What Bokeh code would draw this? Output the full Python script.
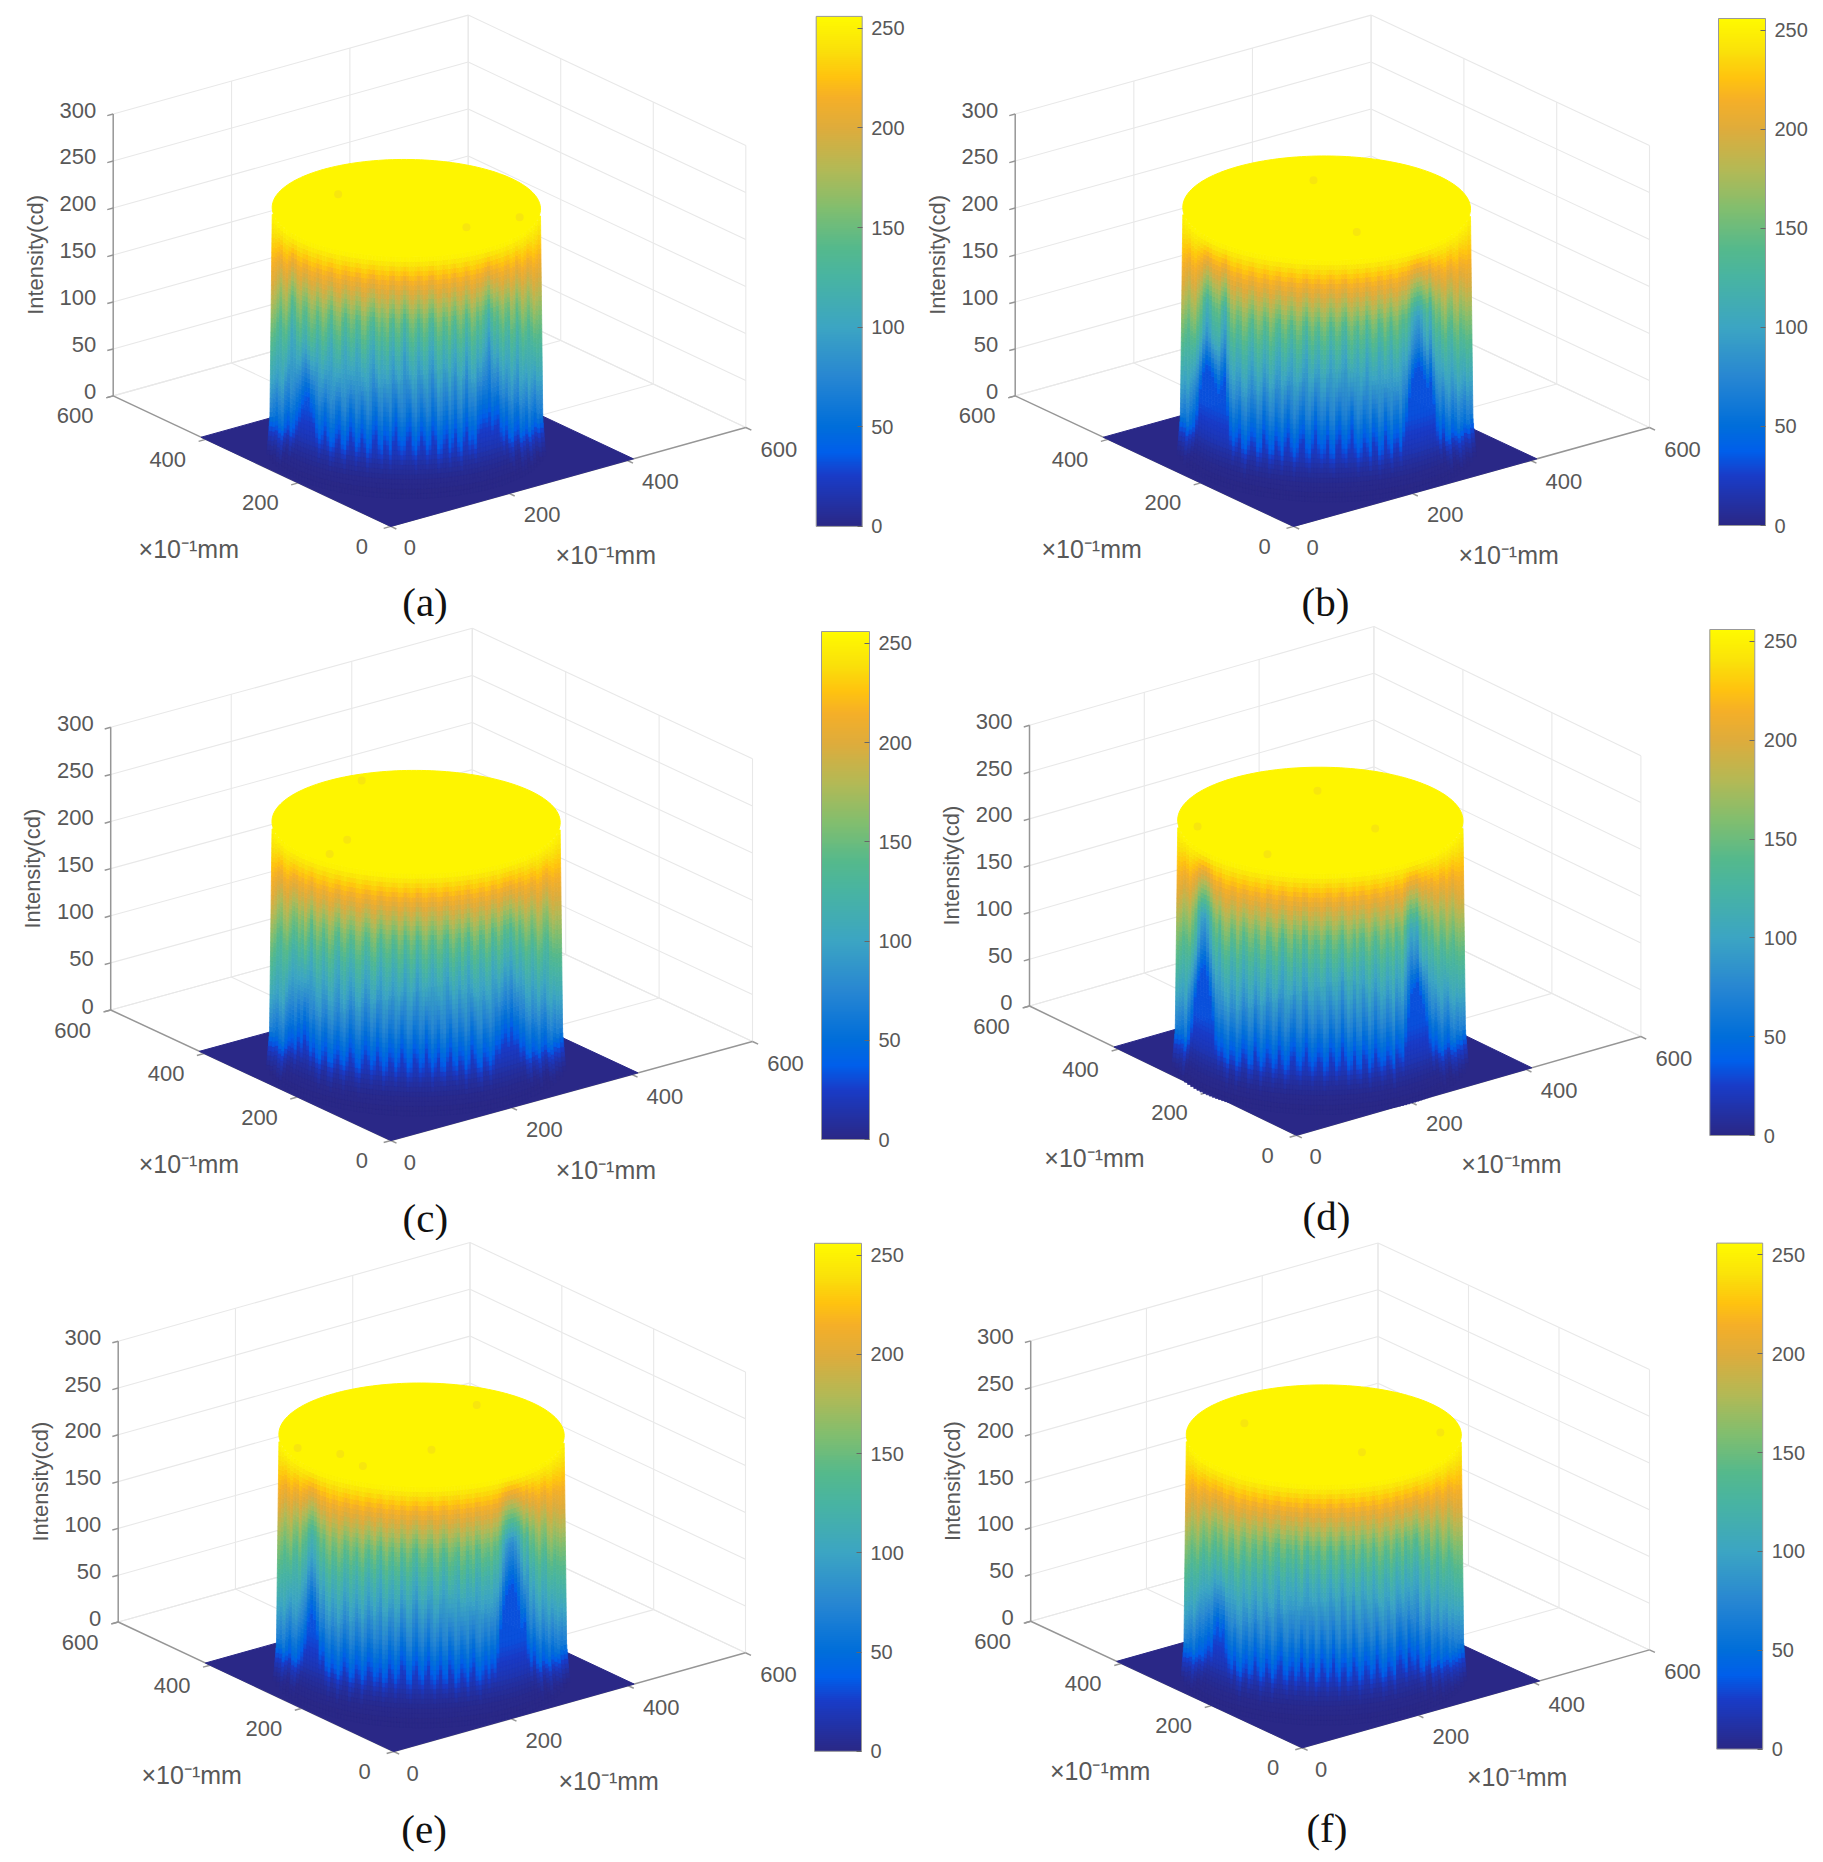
import numpy as np
from bokeh.embed import file_html
from bokeh.resources import INLINE
from bokeh.core.properties import value
from bokeh.layouts import column, row
from bokeh.models import ColorBar, ColumnDataSource, FixedTicker, LinearColorMapper, Range1d
from bokeh.plotting import figure

# ---- data ----
captions = ["(a)", "(b)", "(c)", "(d)", "(e)", "(f)"]
z_ticks = [0, 50, 100, 150, 200, 250, 300]
xy_ticks = [0, 200, 400, 600]
bar_ticks = [0, 50, 100, 150, 200, 250]
z_title = "Intensity(cd)"
xy_title = "×10⁻¹mm"
plateau = 255            # intensity of the flat top
base_extent = 410        # side of the dark square, ×10⁻¹mm

# For each panel: how far (in intensity) the wall colour lags behind its height,
# column by column from the left edge of the cylinder to the right edge.
# "hi" holds for the upper part of the wall, "lo" for the lower part.
hi_a = [22,30,44,60,38,30,52,78,70,44,36,58,64,40,28,34,56,42,22,30,48,62,36,24,20,44,58,40,26,32,54,46,20,18,36,52,60,34,22,40,28,18,46,58,30,24,42,66,48,26,20,34,54,40,22,30,56,62,36,18,26,48,38,20,44,58,32,24,36,64,46,22,30,52,40,56,72,84,66,48,60,42,30,50,58,28,36,62,44,24,34,52,38,22,30,36]
lo_a = [30,38,46,34,28,50,60,44,52,64,72,80,86,88,76,70,50,36,44,58,40,26,30,46,52,28,22,38,56,44,24,32,50,36,18,26,48,54,30,22,42,36,20,44,58,32,24,28,46,52,26,18,34,50,38,22,30,54,44,20,26,40,48,24,36,52,30,22,44,58,34,40,32,56,62,70,66,74,60,68,72,52,44,56,38,30,48,54,28,36,46,26,40,50,32,36]
hi_b = [26,36,48,30,24,44,62,84,96,86,72,66,60,82,92,64,40,30,50,44,22,26,46,58,34,20,30,52,42,18,28,48,56,30,22,40,54,36,18,24,46,60,32,20,38,50,26,18,34,56,42,22,30,52,60,28,20,36,48,24,30,58,40,20,26,54,44,22,38,56,32,26,46,60,52,72,88,98,104,98,84,74,90,64,46,56,36,26,48,54,30,22,44,36,28,32]
lo_b = [34,42,30,46,58,74,98,120,130,134,126,108,96,102,110,76,50,36,44,54,30,22,38,50,44,24,30,56,40,22,26,48,36,20,42,54,32,18,28,46,52,26,20,38,58,34,24,30,48,22,18,44,52,30,26,40,60,34,20,28,46,36,22,50,42,20,28,54,36,24,44,48,30,52,70,94,116,130,136,130,120,104,110,84,58,44,60,38,30,50,42,26,36,46,30,38]
hi_c = [24,34,50,58,36,28,46,64,60,40,52,30,48,70,44,26,36,56,40,20,28,50,60,32,22,38,52,44,20,18,34,54,46,24,16,40,56,36,22,28,50,42,18,26,54,38,20,30,58,44,24,18,36,52,40,22,26,48,56,30,18,34,46,24,40,58,36,20,28,50,44,22,32,60,50,30,44,66,58,72,56,38,60,46,28,36,54,42,22,30,50,56,34,24,30,28]
lo_c = [28,36,44,30,24,46,58,60,50,68,56,72,62,44,52,36,26,44,50,28,22,38,46,30,20,34,52,42,24,18,36,50,40,22,30,48,34,18,26,44,38,20,32,50,36,18,24,46,40,22,28,52,34,18,30,44,24,20,38,50,28,22,42,36,18,30,54,40,24,20,44,38,26,36,54,50,64,72,62,76,64,66,50,54,36,30,46,40,26,44,50,30,24,36,28,30]
hi_d = [28,36,50,44,32,54,72,96,112,116,104,86,64,48,68,40,26,30,52,44,20,34,56,42,24,28,48,36,18,22,50,44,26,18,38,58,40,22,18,46,34,24,54,48,20,28,42,36,18,30,52,44,22,26,40,58,34,18,28,46,24,44,52,30,18,36,54,40,22,30,50,38,26,56,46,32,64,84,96,90,98,76,58,68,46,56,36,28,50,44,24,36,48,30,26,30]
lo_d = [32,40,46,30,58,76,102,124,136,140,128,106,82,58,44,50,36,24,44,40,20,30,50,42,22,26,54,36,18,30,46,38,20,28,50,32,16,24,44,48,26,20,36,52,30,18,28,42,36,16,24,48,40,22,30,54,36,18,26,44,24,20,46,40,18,30,50,34,22,28,44,36,20,50,42,36,62,84,106,120,126,116,98,80,62,46,56,40,28,44,52,30,24,36,28,32]
hi_e = [28,38,52,40,30,54,58,36,60,66,82,90,82,68,48,60,36,24,46,40,20,30,52,44,24,36,48,28,18,40,52,36,22,44,56,30,18,36,46,26,22,50,38,20,30,48,58,32,22,28,44,50,24,18,36,54,44,22,30,40,50,20,26,46,36,24,54,48,30,38,44,32,52,50,70,90,104,112,116,110,100,86,70,80,52,62,42,30,50,56,30,24,40,34,28,32]
lo_e = [34,42,30,46,58,40,36,50,60,74,90,100,94,78,56,62,40,30,46,36,22,34,50,40,20,26,44,36,18,30,46,40,22,28,38,18,24,46,36,20,30,52,44,22,18,40,48,28,20,36,50,26,18,30,44,24,22,48,38,18,26,42,34,20,40,50,28,22,34,44,32,46,40,60,86,110,124,132,130,116,102,86,92,64,48,62,42,30,50,40,26,44,34,28,36,30]
hi_f = [22,30,44,36,24,42,56,46,34,52,62,44,56,36,26,46,50,28,20,40,52,32,24,44,48,26,32,56,42,24,36,50,58,30,28,48,44,32,54,36,22,46,58,40,28,42,52,30,24,44,56,36,26,40,60,44,28,36,50,22,30,54,42,24,34,56,36,20,30,50,44,24,38,56,46,30,60,50,42,62,66,44,30,48,52,26,36,54,40,22,32,48,36,24,28,26]
lo_f = [24,32,40,28,44,54,50,60,68,62,78,86,76,82,62,46,36,48,30,20,38,44,26,32,52,36,20,28,46,36,18,30,44,50,26,20,36,42,22,30,50,34,20,38,44,18,26,48,36,20,32,52,30,18,38,42,20,28,50,36,18,26,44,38,22,30,52,34,20,26,44,36,24,50,58,46,36,62,50,44,58,36,28,46,52,26,34,44,24,36,40,24,32,26,28,24]

# Small dips on the flat top: offset from the disk centre in u and v (×10⁻¹mm)
dips_a = [(100, -117), (-41, 95), (21, -103)]
dips_b = [(49, 91), (-22, -93)]
dips_c = [(36, 163), (-112, 3), (-162, -24)]
dips_d = [(64, 89), (-134, -54), (-148, 85), (42, -69)]
dips_e = [(-133, -42), (-23, -51), (-162, 63), (-130, 11), (127, 42)]
dips_f = [(131, -90), (1, -83), (-59, 100)]

# ---- page geometry (page pixels) ----
ROW1, ROW2, ROW3 = (0, 625), (625, 1240), (1240, 1858)
COL1, COL2 = (0, 915), (915, 1815)
GEOM = [
    dict(L=(112.7, 395.4), top=113.5, F=(390.3, 525.9), R=(745.3, 427.0), disk=(271.7, 540.0, 207.7),
         bar=(815.7, 861.5, 15.8, 525.9), cap=(424.5, 601), fig=COL1 + ROW1, hi=hi_a, lo=lo_a, dips=dips_a),
    dict(L=(1014.7, 395.4), top=113.5, F=(1293.1, 525.9), R=(1649.0, 427.0), disk=(1182.3, 1470.0, 207.6),
         bar=(1718.0, 1765.0, 17.8, 525.0), cap=(1325, 601), fig=COL2 + ROW1, hi=hi_b, lo=lo_b, dips=dips_b),
    dict(L=(110.2, 1009.5), top=726.8, F=(390.4, 1140.0), R=(752.0, 1041.0), disk=(271.5, 559.7, 821.5),
         bar=(821.0, 868.5, 630.7, 1139.0), cap=(424.8, 1217), fig=COL1 + ROW2, hi=hi_c, lo=lo_c, dips=dips_c),
    dict(L=(1029.0, 1005.5), top=724.8, F=(1296.0, 1134.8), R=(1640.4, 1036.0), disk=(1177.2, 1462.5, 820.0),
         bar=(1709.3, 1754.0, 628.7, 1135.0), cap=(1326, 1215), fig=COL2 + ROW2, hi=hi_d, lo=lo_d, dips=dips_d),
    dict(L=(117.7, 1621.5), top=1340.7, F=(393.2, 1751.0), R=(745.0, 1652.3), disk=(278.4, 563.7, 1434.5),
         bar=(814.0, 861.0, 1242.7, 1750.8), cap=(423.6, 1828), fig=COL1 + ROW3, hi=hi_e, lo=lo_e, dips=dips_e),
    dict(L=(1030.2, 1620.8), top=1340.4, F=(1301.7, 1747.3), R=(1649.0, 1649.4), disk=(1185.8, 1460.8, 1434.3),
         bar=(1716.2, 1762.1, 1242.4, 1748.6), cap=(1326.4, 1827), fig=COL2 + ROW3, hi=hi_f, lo=lo_f, dips=dips_f),
]

# ---- colour map as seen in the colour bars ----
anchors = [(0, (42, 40, 135)), (25, (25, 60, 200)), (37, (0, 95, 235)), (50, (0, 110, 218)), (75, (40, 135, 210)),
           (100, (60, 165, 195)), (125, (72, 180, 162)), (140, (85, 185, 140)), (160, (130, 190, 110)),
           (180, (180, 185, 85)), (200, (222, 172, 60)), (215, (245, 175, 40)), (226, (255, 195, 15)),
           (240, (250, 225, 10)), (256, (255, 250, 0))]
ax = [a[0] for a in anchors]
PAL = []
for i in range(257):
    PAL.append("#%02x%02x%02x" % tuple(int(round(np.interp(i, ax, [a[1][k] for a in anchors]))) for k in range(3)))

FONT = value("Liberation Sans")
TXT = "#585858"
GRID = "#e8e8e8"
AXIS = "#969696"
NAVY = PAL[0]
TOPC = "#fef500"


def soften(v):
    # small wiggles are read less strongly than the deep dents
    return 38 + 0.7 * (v - 38) if v < 70 else 60.4 + 1.2 * (v - 70)


def panel(g, cap):
    x0, x1, y0, y1 = g["fig"]
    p = figure(width=x1 - x0, height=y1 - y0, output_backend="svg", toolbar_location=None,
               x_range=Range1d(x0, x1), y_range=Range1d(y1, y0), min_border=0,
               outline_line_color=None, background_fill_color="white", border_fill_color="white")
    p.axis.visible = False
    p.grid.visible = False

    F = np.array(g["F"], float)
    uv = (np.array(g["R"], float) - F) / 600.0
    vv = (np.array(g["L"], float) - F) / 600.0
    zs = (g["L"][1] - g["top"]) / 300.0

    def proj(u, v, z=0.0):
        u, v, z = np.asarray(u, float), np.asarray(v, float), np.asarray(z, float)
        return F[0] + u * uv[0] + v * vv[0], F[1] + u * uv[1] + v * vv[1] - z * zs

    # ---- box grid ----
    gx0, gy0, gx1, gy1 = [], [], [], []

    def add(a, b):
        xa, ya = proj(*a)
        xb, yb = proj(*b)
        gx0.append(float(xa)); gy0.append(float(ya)); gx1.append(float(xb)); gy1.append(float(yb))

    for z in z_ticks:
        add((0, 600, z), (600, 600, z))
        add((600, 600, z), (600, 0, z))
    for t in xy_ticks[1:]:
        add((t, 600, 0), (t, 600, 300))
        add((600, t, 0), (600, t, 300))
        add((t, 0, 0), (t, 600, 0))
        add((0, t, 0), (600, t, 0))
    add((600, 0, 0), (600, 0, 300))
    p.segment(gx0, gy0, gx1, gy1, line_color=GRID, line_width=1.1)

    # ---- axis lines and ticks ----
    ax0, ay0, ax1, ay1 = [], [], [], []

    def add_axis(a, b):
        xa, ya = proj(*a)
        xb, yb = proj(*b)
        ax0.append(float(xa)); ay0.append(float(ya)); ax1.append(float(xb)); ay1.append(float(yb))

    add_axis((0, 600, 0), (0, 600, 300))
    add_axis((0, 600, 0), (0, 0, 0))
    add_axis((0, 0, 0), (600, 0, 0))
    for z in z_ticks:
        add_axis((0, 600, z), (-10, 600, z))
    for t in xy_ticks:
        add_axis((-12, t, 0), (0, t, 0))
        add_axis((t, -12, 0), (t, 0, 0))
    p.segment(ax0, ay0, ax1, ay1, line_color=AXIS, line_width=1.5)

    # ---- dark base square ----
    bx, by = proj([0, base_extent, base_extent, 0], [0, 0, base_extent, base_extent])
    p.patch(bx, by, fill_color=NAVY, line_color=NAVY, line_width=1)

    # ---- cylinder wall ----
    dx0, dx1, top_cy = g["disk"]
    cx = (dx0 + dx1) / 2
    rx = (dx1 - dx0) / 2
    r = rx / np.hypot(uv[0], vv[0])
    t_x = np.arctan2(vv[0], uv[0])
    hi, lo = g["hi"], g["lo"]
    n = len(hi)
    edges = np.linspace(-1, 1, n + 1)
    step = 5
    levels = np.arange(0, plateau, step)
    L, R, T, B, C = [], [], [], [], []
    y_base = top_cy + plateau * zs
    # front of the ellipse, in intensity units: colour bands run nearly level on the page
    y_front = r * np.hypot(uv[1], vv[1]) / zs
    for i in range(n):
        s = (edges[i] + edges[i + 1]) / 2
        t = t_x - np.arccos(s)
        yo = r * (uv[1] * np.cos(t) + vv[1] * np.sin(t))
        level_shift = yo / zs - y_front
        l_hi, l_lo = soften(hi[i]), soften(lo[min(i, len(lo) - 1)]) - 10
        for z in levels:
            z2 = min(z + step, plateau)
            zm = (z + z2) / 2
            flare = 0.02 * (1 - zm / plateau) + 0.02 * max(0.0, 1 - zm / 40)
            k = 1 + flare
            blend = np.clip((zm - 90) / 60.0, 0, 1)
            lag = l_lo + (l_hi - l_lo) * blend + level_shift
            c = zm - lag * min(1.0, (plateau - zm) / 70.0)
            c = max(c, min(0.4 * zm, 32)) * min(1.0, zm / 45.0)
            L.append(cx + rx * edges[i] * k)
            R.append(cx + rx * edges[i + 1] * k)
            B.append(y_base + yo * k - z * zs)
            T.append(y_base + yo * k - z2 * zs)
            C.append(PAL[int(np.clip(c, 0, 256))])
    src = ColumnDataSource(dict(left=L, right=R, top=T, bottom=B, color=C))
    p.quad(left="left", right="right", top="top", bottom="bottom", source=src,
           fill_color="color", line_color="color", line_width=0.8)

    # ---- flat top ----
    a = np.linspace(0, 2 * np.pi, 181)
    ex = cx + r * (uv[0] * np.cos(a) + vv[0] * np.sin(a))
    ey = top_cy + r * (uv[1] * np.cos(a) + vv[1] * np.sin(a))
    p.patch(ex, ey, fill_color=TOPC, line_color=TOPC, line_width=1)
    du = np.array([d[0] for d in g["dips"]], float)
    dv = np.array([d[1] for d in g["dips"]], float)
    p.scatter(cx + du * uv[0] + dv * vv[0], top_cy + du * uv[1] + dv * vv[1], size=8,
              fill_color="#f7e60e", line_color=None)

    # ---- tick labels ----
    tx, ty, tt, ta = [], [], [], []
    for z in z_ticks:
        xa, ya = proj(0, 600, z)
        tx.append(float(xa) - 17); ty.append(float(ya) - 4); tt.append(str(z)); ta.append("right")
    for t_ in xy_ticks:
        xa, ya = proj(0, t_, 0)
        off = -29 if t_ == 0 else -38
        tx.append(float(xa) + off); ty.append(float(ya) + 20); tt.append(str(t_)); ta.append("center")
        xa, ya = proj(t_, 0, 0)
        off = 19 if t_ == 0 else 33
        tx.append(float(xa) + off); ty.append(float(ya) + 21.5); tt.append(str(t_)); ta.append("center")
    p.text(tx, ty, text=tt, text_align=ta, text_baseline="middle", text_color=TXT,
           text_font=FONT, text_font_size="22px")

    # ---- axis titles ----
    lx, ly = g["L"]
    p.text([lx - 78], [(ly + g["top"]) / 2], text=[z_title], angle=[np.pi / 2], angle_units="rad",
           text_align="center", text_baseline="middle", text_color=TXT, text_font=FONT, text_font_size="22px")
    p.text([F[0] - 202, F[0] + 215], [F[1] + 23, F[1] + 29], text=[xy_title, xy_title],
           text_align="center", text_baseline="middle", text_color=TXT, text_font=FONT, text_font_size="25px")

    # ---- caption ----
    p.text([g["cap"][0]], [g["cap"][1]], text=[cap], text_align="center", text_baseline="middle",
           text_color="#111111", text_font=value("Liberation Serif"), text_font_size="41px")

    # ---- colour bar ----
    bx0, bx1, by0, by1 = g["bar"]
    mapper = LinearColorMapper(palette=PAL, low=0, high=256)
    cb = ColorBar(color_mapper=mapper, ticker=FixedTicker(ticks=bar_ticks),
                  width=int(round(bx1 - bx0)), height=int(round(by1 - by0)),
                  location=(bx0 - x0, y1 - by1), padding=0, margin=0,
                  major_label_text_font="Liberation Sans", major_label_text_font_size="20px",
                  major_label_text_color=TXT, major_tick_line_color="#666666", major_tick_in=5,
                  major_tick_out=0, minor_tick_line_color=None, label_standoff=9,
                  bar_line_color="#999999", border_line_color=None, background_fill_color=None)
    p.add_layout(cb, "center")
    return p


figs = [panel(g, c) for g, c in zip(GEOM, captions)]
layout = column(row(figs[0], figs[1], spacing=0), row(figs[2], figs[3], spacing=0),
                row(figs[4], figs[5], spacing=0), spacing=0)
open("out.html", "w").write(file_html(layout, INLINE))
